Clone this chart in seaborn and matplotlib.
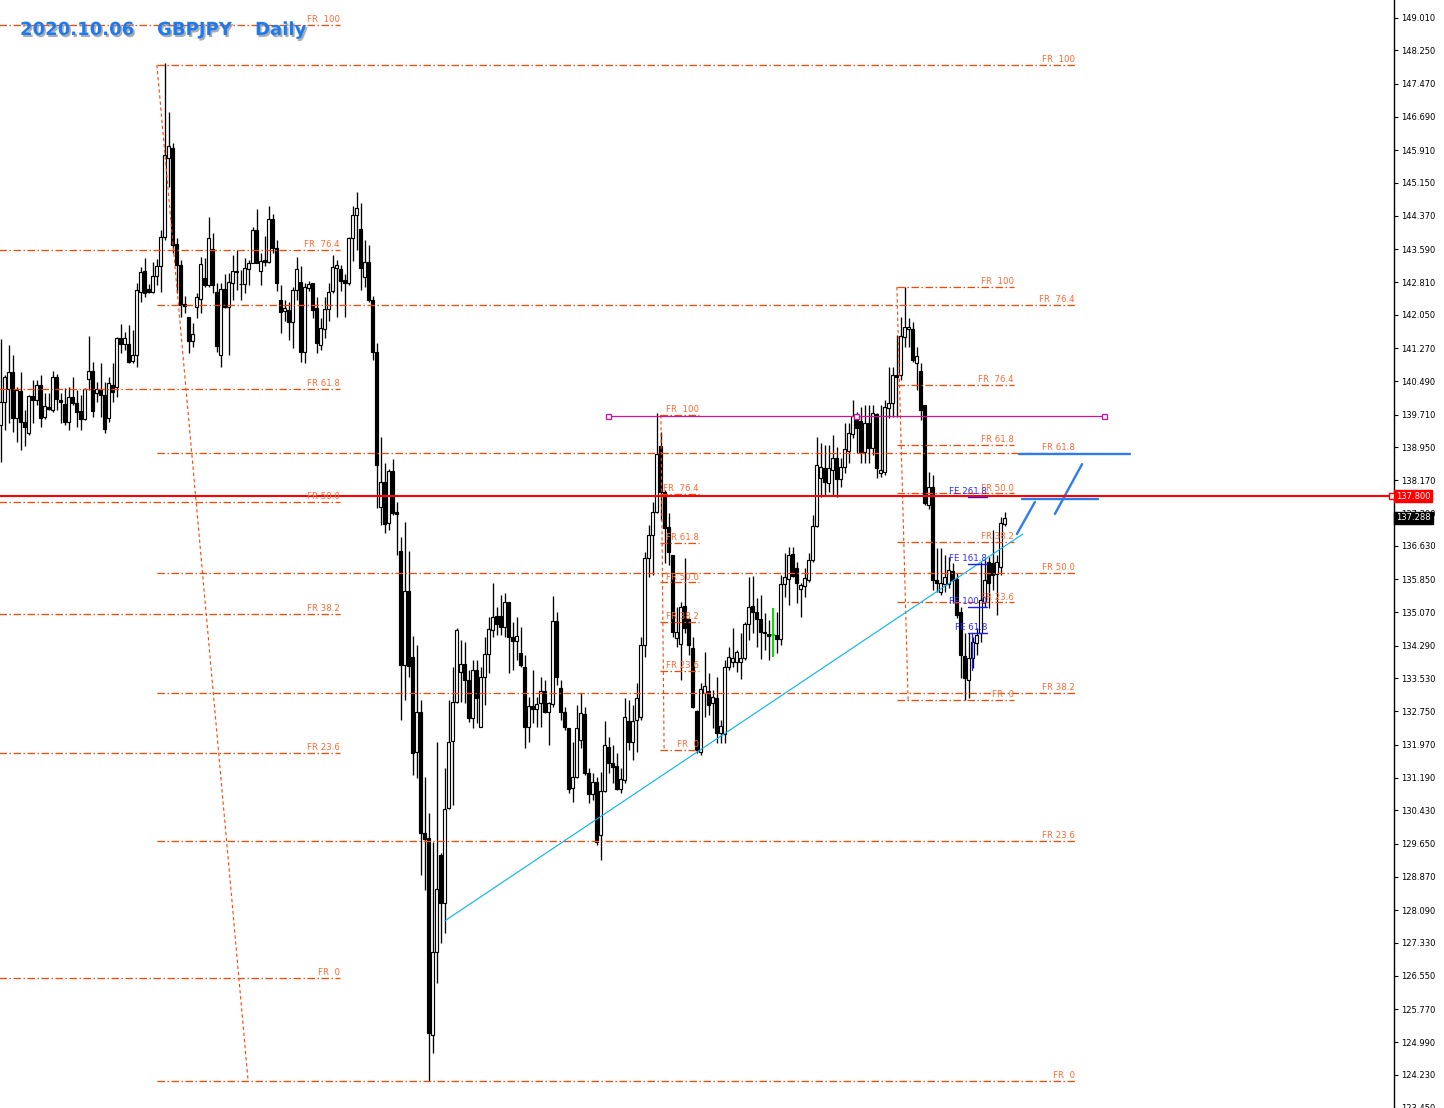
import numpy as np
import matplotlib
matplotlib.use('Agg')
import matplotlib.pyplot as plt
import matplotlib.patheffects as pe
from matplotlib.transforms import blended_transform_factory
import seaborn as sns

# daily bars (oldest first)
opens = [139.47, 140.01, 140.31, 140.71, 139.63, 140.26, 139.54, 139.28, 140.14, 140.05,
         140.40, 139.65, 139.89, 139.82, 140.59, 140.05, 139.96, 139.54, 140.12, 139.98,
         139.79, 139.61, 140.54, 140.73, 140.22, 140.31, 140.17, 139.63, 140.40, 140.36,
         141.51, 141.37, 141.37, 140.97, 141.11, 142.59, 143.08, 142.66, 142.59, 142.96,
         143.19, 143.88, 145.73, 145.96, 143.71, 143.22, 142.30, 141.99, 141.44, 142.24,
         142.42, 142.91, 142.75, 143.59, 142.59, 141.11, 142.66, 142.23, 142.80, 143.08,
         142.78, 142.77, 143.12, 143.26, 144.04, 143.08, 143.34, 143.29, 144.30, 143.62,
         142.40, 142.14, 142.16, 141.88, 142.63, 142.82, 141.18, 142.68, 142.80, 142.21,
         141.34, 141.72, 142.19, 142.61, 143.15, 143.12, 142.87, 142.80, 143.85, 144.39,
         144.06, 142.94, 143.29, 142.40, 141.18, 137.54, 138.13, 137.17, 138.39, 137.42,
         136.51, 133.83, 135.57, 134.02, 131.80, 132.73, 129.90, 129.78, 125.17, 127.11,
         129.39, 128.26, 130.49, 132.05, 132.97, 133.68, 133.86, 133.49, 132.60, 133.72,
         132.39, 133.56, 134.10, 134.66, 134.99, 134.99, 134.73, 135.32, 134.50, 134.40,
         134.12, 133.79, 132.39, 132.88, 132.81, 132.95, 133.23, 132.74, 132.93, 134.87,
         133.30, 132.74, 132.36, 130.96, 131.21, 132.08, 132.69, 131.31, 130.81, 131.10,
         129.86, 130.88, 131.92, 131.54, 131.47, 130.93, 131.14, 132.53, 132.03, 132.55,
         132.62, 134.31, 136.35, 136.89, 137.42, 138.97, 137.90, 137.07, 136.42, 134.47,
         134.33, 135.22, 134.92, 134.24, 132.76, 131.80, 133.18, 133.23, 132.95, 133.07,
         132.24, 132.22, 133.79, 133.91, 133.91, 133.91, 134.01, 134.80, 135.22, 135.08,
         134.92, 134.62, 134.57, 134.57, 134.54, 134.45, 135.74, 135.86, 136.44, 136.11,
         135.62, 135.69, 135.83, 136.30, 137.10, 138.22, 138.46, 138.11, 138.41, 138.69,
         138.20, 138.48, 138.86, 139.26, 139.70, 139.56, 138.83, 139.51, 138.93, 139.72,
         138.34, 138.36, 139.87, 139.98, 140.64, 140.64, 141.53, 141.72, 141.72, 140.92,
         140.73, 139.93, 137.59, 138.01, 135.83, 135.55, 135.74, 135.74, 136.04, 135.86,
         135.08, 134.05, 133.49, 134.01, 134.36, 134.59, 135.32, 136.25, 136.23, 135.98,
         136.14, 137.15]
highs = [141.48, 140.64, 141.34, 141.11, 140.36, 140.71, 139.82, 140.17, 140.52, 140.52,
         140.64, 140.22, 140.22, 140.73, 140.66, 140.22, 140.33, 140.36, 140.59, 140.29,
         140.17, 140.33, 141.55, 140.94, 140.47, 140.92, 140.47, 140.59, 140.92, 141.53,
         141.84, 141.65, 141.81, 141.70, 142.80, 143.17, 143.38, 142.77, 143.29, 143.36,
         144.04, 147.96, 146.80, 146.08, 143.85, 143.33, 142.50, 142.00, 141.86, 142.56,
         143.40, 143.38, 144.34, 143.97, 142.80, 142.80, 143.00, 143.03, 143.45, 143.57,
         143.10, 143.38, 143.33, 144.11, 144.53, 143.50, 143.90, 144.60, 144.42, 143.80,
         142.75, 142.40, 142.35, 142.70, 143.40, 143.19, 142.80, 142.85, 142.80, 142.47,
         141.97, 142.47, 142.80, 143.45, 143.33, 143.22, 143.00, 143.88, 144.60, 144.93,
         144.67, 143.80, 143.69, 142.50, 141.40, 139.19, 138.57, 138.44, 138.67, 137.66,
         136.84, 137.19, 136.52, 134.51, 134.31, 133.02, 131.21, 130.37, 129.69, 132.03,
         129.43, 131.42, 133.02, 133.79, 134.71, 134.43, 134.38, 133.72, 133.96, 133.96,
         133.79, 134.50, 134.96, 135.76, 135.20, 135.48, 135.53, 135.32, 134.85, 134.96,
         134.73, 134.08, 133.09, 133.72, 133.09, 133.56, 133.49, 132.97, 135.46, 135.08,
         133.49, 132.86, 132.36, 132.03, 132.90, 133.18, 132.86, 131.42, 131.31, 131.21,
         131.33, 132.53, 132.15, 131.96, 131.78, 131.42, 133.07, 133.02, 132.90, 133.42,
         134.50, 136.49, 137.12, 137.66, 139.75, 139.30, 137.94, 137.40, 136.42, 135.20,
         135.32, 136.35, 134.94, 134.50, 132.78, 133.42, 134.15, 133.65, 133.25, 133.56,
         132.55, 133.96, 134.26, 134.71, 134.19, 134.60, 134.85, 135.90, 135.92, 135.41,
         135.48, 135.06, 134.89, 135.17, 135.08, 135.95, 136.47, 136.61, 136.61, 136.26,
         135.76, 136.11, 136.47, 137.36, 139.18, 139.04, 138.99, 138.99, 139.23, 138.95,
         138.69, 139.51, 139.51, 140.05, 139.77, 139.89, 139.94, 139.94, 139.94, 139.75,
         139.94, 140.05, 140.83, 140.83, 141.58, 142.00, 142.70, 141.98, 141.88, 141.30,
         140.92, 139.93, 138.36, 138.29, 136.58, 136.58, 136.42, 136.37, 136.23, 136.00,
         135.20, 134.59, 134.59, 134.50, 134.71, 136.25, 136.30, 136.37, 137.00, 136.42,
         137.31, 137.43]
lows = [138.60, 139.35, 139.51, 139.30, 139.07, 138.88, 138.97, 139.23, 139.51, 139.94,
        139.42, 139.61, 139.82, 139.77, 139.82, 139.51, 139.47, 139.35, 139.94, 139.42,
        139.35, 139.58, 140.29, 139.65, 140.01, 139.65, 139.28, 139.54, 140.01, 140.12,
        141.16, 141.23, 140.92, 140.92, 140.83, 142.35, 142.47, 142.56, 142.56, 142.75,
        142.59, 143.80, 145.05, 143.50, 142.56, 141.99, 142.10, 141.16, 141.30, 141.97,
        142.09, 142.70, 142.70, 142.56, 141.18, 140.83, 142.20, 141.11, 142.40, 142.63,
        142.40, 142.56, 142.75, 143.26, 143.26, 142.75, 143.20, 143.26, 143.50, 142.60,
        141.63, 141.90, 141.46, 141.27, 142.40, 140.94, 140.92, 142.60, 141.97, 141.16,
        141.23, 141.51, 141.90, 142.56, 142.00, 142.60, 142.00, 142.75, 143.30, 143.57,
        142.63, 142.70, 142.35, 141.00, 137.52, 137.12, 136.93, 137.00, 137.36, 136.42,
        132.55, 133.02, 133.56, 131.26, 131.19, 128.91, 128.56, 124.09, 124.74, 126.38,
        127.32, 127.56, 130.46, 130.56, 132.95, 132.97, 132.95, 132.50, 132.36, 132.48,
        132.39, 132.90, 133.65, 134.50, 134.54, 134.54, 134.50, 133.65, 133.72, 133.96,
        133.79, 131.89, 132.03, 132.48, 132.39, 132.39, 132.72, 131.96, 132.86, 133.37,
        132.55, 132.31, 130.84, 130.63, 131.19, 131.89, 131.26, 130.60, 130.67, 129.62,
        129.27, 130.86, 131.31, 131.07, 130.91, 130.84, 131.07, 131.85, 131.61, 131.80,
        132.55, 134.03, 135.90, 135.95, 137.40, 137.24, 136.23, 136.18, 134.50, 134.26,
        133.49, 134.59, 134.08, 132.83, 131.78, 131.73, 132.62, 132.67, 132.36, 132.01,
        132.00, 132.01, 133.72, 133.79, 133.68, 133.50, 133.96, 134.43, 134.59, 134.26,
        133.98, 134.19, 133.96, 134.03, 134.12, 134.31, 135.43, 135.25, 135.90, 135.29,
        134.97, 135.43, 135.79, 136.26, 137.08, 137.78, 137.83, 137.90, 137.83, 137.78,
        138.01, 138.34, 138.58, 139.16, 138.81, 138.58, 138.58, 138.58, 138.76, 138.22,
        138.25, 138.29, 139.63, 139.65, 139.65, 140.52, 141.30, 141.30, 140.94, 140.29,
        139.58, 137.59, 137.50, 135.60, 135.55, 135.48, 135.55, 135.65, 135.29, 134.94,
        133.54, 133.02, 133.07, 133.77, 134.08, 134.38, 135.20, 135.18, 135.60, 135.01,
        135.95, 137.10]
closes = [140.01, 140.59, 140.71, 139.63, 140.29, 139.54, 139.42, 140.14, 140.05, 140.40,
          139.63, 139.91, 139.84, 140.59, 140.08, 140.01, 139.54, 140.12, 139.98, 139.77,
          139.61, 140.31, 140.73, 139.79, 140.31, 140.17, 139.37, 140.45, 140.24, 141.51,
          141.37, 141.51, 140.94, 141.11, 142.63, 143.06, 142.56, 142.59, 142.96, 143.19,
          143.88, 145.80, 146.01, 143.69, 143.22, 142.28, 142.26, 141.44, 141.60, 142.47,
          143.24, 142.75, 143.85, 142.75, 141.32, 142.66, 142.23, 142.82, 143.08, 143.05,
          142.77, 143.15, 143.26, 144.04, 143.26, 143.31, 143.29, 144.30, 143.62, 142.80,
          142.12, 142.21, 141.88, 142.63, 143.12, 141.18, 142.70, 142.77, 142.16, 141.39,
          141.74, 142.19, 142.59, 143.17, 143.22, 142.85, 142.80, 143.85, 144.39, 144.55,
          143.15, 143.29, 142.40, 141.18, 138.53, 138.13, 137.15, 138.39, 137.40, 137.38,
          133.83, 135.57, 133.81, 131.78, 132.73, 129.90, 129.76, 125.21, 127.11, 128.59,
          128.26, 130.46, 132.03, 132.97, 134.66, 133.86, 133.49, 132.60, 133.72, 133.06,
          133.56, 134.10, 134.68, 134.96, 134.80, 134.73, 135.32, 134.50, 134.40, 134.52,
          133.84, 132.39, 132.88, 132.81, 132.93, 133.23, 132.74, 132.95, 134.87, 133.56,
          132.74, 132.39, 130.93, 131.21, 132.36, 132.72, 131.31, 130.81, 131.10, 129.69,
          130.88, 131.96, 131.54, 131.45, 130.93, 131.17, 132.62, 132.03, 132.53, 133.06,
          134.31, 136.35, 136.89, 137.42, 138.79, 137.90, 137.05, 136.49, 134.61, 134.61,
          135.20, 134.71, 134.31, 132.86, 131.85, 133.28, 133.35, 132.90, 133.09, 132.25,
          132.41, 133.79, 134.03, 134.01, 134.15, 134.01, 134.80, 135.20, 135.08, 134.92,
          134.61, 134.59, 134.52, 134.55, 134.45, 135.74, 135.90, 136.42, 135.93, 135.76,
          135.72, 135.88, 136.30, 137.10, 138.53, 138.48, 138.13, 138.46, 138.69, 138.20,
          138.48, 138.90, 139.28, 139.68, 139.40, 138.83, 139.51, 138.93, 139.75, 138.46,
          138.41, 139.89, 139.98, 140.64, 140.59, 141.55, 141.77, 141.77, 140.99, 141.08,
          139.82, 137.64, 138.01, 135.83, 135.76, 135.76, 135.90, 136.07, 135.83, 135.01,
          134.08, 133.54, 134.01, 134.38, 134.54, 135.36, 135.83, 135.76, 135.95, 136.25,
          137.17, 137.29]
green_bar = 193

tick_values = [149.01, 148.25, 147.47, 146.69, 145.91, 145.15, 144.37, 143.59, 142.81, 142.05,
               141.27, 140.49, 139.71, 138.95, 138.17, 137.39, 136.63, 135.85, 135.07, 134.29,
               133.53, 132.75, 131.97, 131.19, 130.43, 129.65, 128.87, 128.09, 127.33, 126.55,
               125.77, 124.99, 124.23, 123.45]
tick_labels = ['%.3f' % v for v in tick_values]

# fibonacci retracements: (price at 0, price at 100, bar start, bar end)
fib_levels = [0, 23.6, 38.2, 50.0, 61.8, 76.4, 100]
fib_names = ['FR  0', 'FR 23.6', 'FR 38.2', 'FR 50.0', 'FR 61.8', 'FR  76.4', 'FR  100']
fib_sets = [(126.50, 148.84, -1.0, 84.8),
            (124.09, 147.91, 39.1, 268.6),
            (131.85, 139.70, 164.9, 174.6),
            (133.02, 142.70, 224.1, 253.4)]
fib_diagonals = [((39.1, 61.9), (147.91, 124.09)),
                 ((165.1, 165.9), (139.70, 131.85)),
                 ((224.1, 226.9), (142.70, 133.02))]

fe_names = ['FE 261.8', 'FE 161.8', 'FE 100.0', 'FE 61.8']
fe_prices = [137.78, 136.21, 135.20, 134.59]
fe_span = (241.9, 246.6)

magenta_price = 139.68
magenta_span = (151.9, 275.9)
magenta_mid = 213.8

trend_x = [111.1, 255.6]
trend_y = [127.84, 136.91]

sketch_lines = [((254.6, 282.4), (138.79, 138.79)),
                ((255.4, 274.4), (137.73, 137.73)),
                ((254.1, 258.6), (136.91, 137.66)),
                ((263.6, 270.4), (137.38, 138.55))]

alert_price = 137.800
last_price = 137.288

sns.set_theme(style='white')
plt.rcParams['font.family'] = ['DejaVu Sans']

fig = plt.figure(figsize=(14.44, 11.08), dpi=100)
ax = fig.add_axes([0, 0, 1394 / 1444, 1])
ax.set_facecolor('white')

o = np.array(opens)
c = np.array(closes)
h = np.maximum(np.array(highs), np.maximum(o, c))
l = np.minimum(np.array(lows), np.minimum(o, c))
idx = np.arange(len(o))
up = c >= o
plain = idx != green_bar

face_col = np.where(up, 'white', 'black')
ax.vlines(idx[plain], l[plain], h[plain], colors='black', linewidth=0.95, zorder=2)
ax.bar(idx[plain], np.abs(c - o)[plain], bottom=np.minimum(o, c)[plain], width=0.58,
       color=face_col[plain], edgecolor='black', linewidth=0.85, zorder=2.1)
# the one highlighted bar
g = green_bar
ax.vlines([g], [l[g]], [h[g]], colors='#00dd00', linewidth=1.4, zorder=2.2)
ax.bar([g], [abs(c[g] - o[g])], bottom=[min(o[g], c[g])], width=0.58,
       color='#00dd00', edgecolor='#00dd00', linewidth=0.85, zorder=2.3)

fib_color = '#ff4500'
fib_text = '#ff6a33'
dash = (0, (6, 2, 1.2, 2))
for lo, hi, x0, x1 in fib_sets:
    for lv, name in zip(fib_levels, fib_names):
        p = lo + (hi - lo) * lv / 100
        ax.plot([x0, x1], [p, p], color=fib_color, lw=0.9, linestyle=dash, zorder=3)
        ax.annotate(name, (x1, p), xytext=(0, 0.6), textcoords='offset points',
                    ha='right', va='bottom', fontsize=6.2, color=fib_text, zorder=4)
for xs, ys in fib_diagonals:
    ax.plot(xs, ys, color=fib_color, lw=0.8, linestyle=(0, (3, 2.5)), zorder=3)

# trend line under the lows
sns.lineplot(x=trend_x, y=trend_y, ax=ax, color='#00b4f0', lw=0.8, zorder=3)

# magenta horizontal
ax.plot(magenta_span, [magenta_price] * 2, color='#d0109a', lw=0.9, zorder=3)
ax.plot(list(magenta_span) + [magenta_mid], [magenta_price] * 3, 's', ms=3.6,
        mfc='white', mec='#d0109a', mew=0.9, zorder=3.5)

# expansion levels
for name, p in zip(fe_names, fe_prices):
    ax.plot(fe_span, [p, p], color='#1a1aff', lw=1.0, zorder=3)
    ax.annotate(name, (fe_span[1], p), xytext=(0, 0.6), textcoords='offset points',
                ha='right', va='bottom', fontsize=6.2, color='#2a2aff', zorder=4)
ax.plot([242.9, 242.9], [fe_prices[-1], 133.72], color='#1a1aff', lw=0.9, zorder=3)

# hand drawn blue strokes
for xs, ys in sketch_lines:
    ax.plot(xs, ys, color='#2e7deb', lw=1.7, solid_capstyle='round', zorder=3)

# alert line
ax.axhline(alert_price, color='#ff0000', lw=1.5, zorder=3.2)
ax.plot([347.8], [alert_price], 's', ms=4, mfc='white', mec='#ff0000', mew=1,
        clip_on=False, zorder=5)

ax.set_xlim(-0.125, 348.375)
ax.set_ylim(123.453, 149.432)
ax.set_xticks([])
ax.yaxis.tick_right()
ax.set_yticks(tick_values)
ax.set_yticklabels(tick_labels, fontsize=6)
ax.tick_params(axis='y', direction='out', length=3, width=0.8, pad=2,
               colors='black', right=True, left=False)
for side in ['top', 'left', 'bottom']:
    ax.spines[side].set_visible(False)
ax.spines['right'].set_color('black')
ax.spines['right'].set_linewidth(1.0)

tr = blended_transform_factory(ax.transAxes, ax.transData)
ax.text(1.0015, alert_price, '137.800', transform=tr, ha='left', va='center',
        fontsize=6, color='white', clip_on=False, zorder=6,
        bbox=dict(boxstyle='square,pad=0.22', fc='#ff0000', ec='#ff0000'))
ax.text(1.0015, last_price, '137.288', transform=tr, ha='left', va='center',
        fontsize=6, color='white', clip_on=False, zorder=6,
        bbox=dict(boxstyle='square,pad=0.22', fc='black', ec='black'))

shadow = [pe.withSimplePatchShadow(offset=(1.2, -1.5), shadow_rgbFace='#8a8a8a', alpha=0.7)]
for txt, px in [('2020.10.06', 20), ('GBPJPY', 157), ('Daily', 255)]:
    fig.text(px / 1444, 1 - 30 / 1108, txt, fontsize=13.0, fontweight='bold',
             color='#1e7bef', ha='left', va='center', path_effects=shadow)

fig.savefig('out.png', dpi=100, facecolor='white')
